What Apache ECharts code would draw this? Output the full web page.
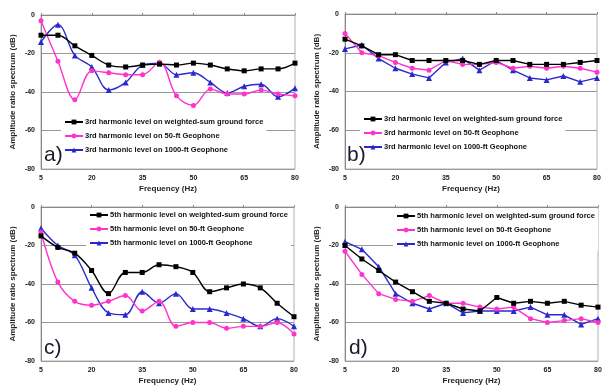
<!DOCTYPE html>
<html>
<head>
<meta charset="utf-8">
<script src="https://cdn.jsdelivr.net/npm/echarts@6/dist/echarts.min.js"></script>
<style>
html,body{margin:0;padding:0;background:#fff;}
#chart{width:606px;height:387px;}
</style>
</head>
<body>
<div id="chart"></div>
<script>
// Frequencies (Hz) of the data points
const frequencies = [5,10,15,20,25,30,35,40,45,50,55,60,65,70,75,80];

// Panel a) 3rd harmonic
const a_groundForce = [-10.5,-10.5,-16,-21,-26,-27,-26,-25.5,-26,-25,-26,-28,-29,-28,-28,-25];
const a_geo50       = [-3,-24,-44,-29,-30,-31,-31,-24.5,-42,-47,-38.5,-41,-41,-39,-41,-42];
const a_geo1000     = [-14,-5,-21,-27,-39,-35,-26,-25,-31,-30,-35,-40.5,-37,-36,-42.5,-38];

// Panel b) 3rd harmonic
const b_groundForce = [-13,-16.5,-21,-21,-24,-24,-24,-24,-26,-24,-24,-26,-26,-26,-25,-24];
const b_geo50       = [-10,-20,-21.5,-25,-28,-29,-24,-26,-26,-25,-28,-27,-28,-27,-28,-30];
const b_geo1000     = [-18,-16,-23,-28,-31,-33,-25,-23,-29,-24,-29,-33,-34,-32,-35,-33];

// Panel c) 5th harmonic
const c_groundForce = [-15,-21,-24,-33,-45,-34,-34,-30,-31,-34,-44,-42,-40,-42,-50,-57];
const c_geo50       = [-13,-39,-49,-51,-49,-46,-54,-49,-62,-60,-60,-63,-62,-62,-60,-66];
const c_geo1000     = [-11,-20,-25,-42,-55,-56,-44,-50,-45,-53,-53,-55,-58,-62,-58,-62];

// Panel d) 5th harmonic
const d_groundForce = [-20,-27,-33,-39,-44,-49,-50,-53,-54,-47,-50,-49,-50,-49,-51,-52];
const d_geo50       = [-23,-35,-45,-48,-49,-46,-50,-50,-52,-53,-52,-58,-60,-59,-58,-60];
const d_geo1000     = [-18,-22,-31,-45,-50,-53,-50,-55,-54,-54,-54,-52,-56,-56,-61,-58];

// Y-axis ticks
const yMin = -80, yMax = 0, yStep = 20;

const names3 = ['3rd harmonic level on weighted-sum ground force','3rd harmonic level on 50-ft Geophone','3rd harmonic level on 1000-ft Geophone'];
const names5 = ['5th harmonic level on weighted-sum ground force','5th harmonic level on 50-ft Geophone','5th harmonic level on 1000-ft Geophone'];
const panelLabels = ['a)','b)','c)','d)'];
const xTitle = 'Frequency (Hz)';
const yTitle = 'Amplitude ratio spectrum (dB)';

const COLORS = ['#000000','#ff33cc','#2a2acc'];
const SYMBOLS = ['rect','circle','triangle'];
const SIZES = [5,5,6];
const FONT = 'Liberation Sans, Arial, sans-serif';

const grids = [
  {left:41, top:15, width:254, height:154},
  {left:345, top:14, width:252, height:155},
  {left:41, top:207, width:253, height:154},
  {left:345, top:207, width:253, height:154}
];
const panels = [
  {data:[a_groundForce,a_geo50,a_geo1000], names:names3, smooth:0.35, legend:{left:61, top:115}},
  {data:[b_groundForce,b_geo50,b_geo1000], names:names3, smooth:false, legend:{left:360, top:112}},
  {data:[c_groundForce,c_geo50,c_geo1000], names:names5, smooth:0.35, legend:{left:86, top:208}},
  {data:[d_groundForce,d_geo50,d_geo1000], names:names5, smooth:false, legend:{left:393, top:209}}
];
const labelPos = [
  {left:44, top:145},{left:347, top:145},{left:44, top:338},{left:349, top:338}
];

const cats = frequencies.map(String);
const option = {
  animation:false,
  backgroundColor:'#fff',
  grid: grids.map(g => Object.assign({show:true, borderColor:'#b0b0b0', borderWidth:1, backgroundColor:'#fff'}, g)),
  xAxis: grids.map((g,i) => ({
    type:'category', gridIndex:i, data:cats, boundaryGap:false,
    name:xTitle, nameLocation:'middle', nameGap:16,
    nameTextStyle:{fontFamily:FONT, fontWeight:'bold', fontSize:8, color:'#222'},
    axisLine:{lineStyle:{color:'#888', width:1}},
    axisTick:{show:true, interval:2, length:2, inside:true, lineStyle:{color:'#888'}},
    axisLabel:{interval:2, fontFamily:FONT, fontWeight:'bold', fontSize:7, color:'#222', margin:6},
    splitLine:{show:false}
  })),
  yAxis: grids.map((g,i) => ({
    type:'value', gridIndex:i, min:yMin, max:yMax, interval:yStep,
    name:yTitle, nameLocation:'middle', nameGap:24, nameRotate:90,
    nameTextStyle:{fontFamily:FONT, fontWeight:'bold', fontSize:8, color:'#222'},
    axisLine:{show:true, lineStyle:{color:'#888', width:1}},
    axisTick:{show:false},
    axisLabel:{fontFamily:FONT, fontWeight:'bold', fontSize:7, color:'#222', margin:6},
    splitLine:{show:true, lineStyle:{color:'#9a9a9a', width:1}}
  })),
  legend: panels.map(p => ({
    data:p.names, orient:'vertical', left:p.legend.left, top:p.legend.top,
    backgroundColor:'#fff', padding:[3,3,3,3], itemGap:6, itemWidth:18, itemHeight:6,
    selectedMode:false,
    textStyle:{fontFamily:FONT, fontWeight:'bold', fontSize:7.5, color:'#111', padding:[0,0,0,-3], lineHeight:8}
  })),
  series: [],
  graphic: labelPos.map((pos,i) => ({
    type:'text', left:pos.left, top:pos.top, z:100,
    style:{text:panelLabels[i], font:'21px ' + FONT, fill:'#1a1a2e'}
  }))
};
panels.forEach((p,pi) => {
  p.data.forEach((d,si) => {
    option.series.push({
      type:'line', name:p.names[si], xAxisIndex:pi, yAxisIndex:pi,
      data:d, smooth:p.smooth,
      symbol:SYMBOLS[si], symbolSize:SIZES[si], showSymbol:true,
      lineStyle:{color:COLORS[si], width:1.4},
      itemStyle:{color:COLORS[si]},
      z: 3 - si
    });
  });
});
const chart = echarts.init(document.getElementById('chart'), null, {renderer:'canvas'});
chart.setOption(option);
</script>
</body>
</html>
